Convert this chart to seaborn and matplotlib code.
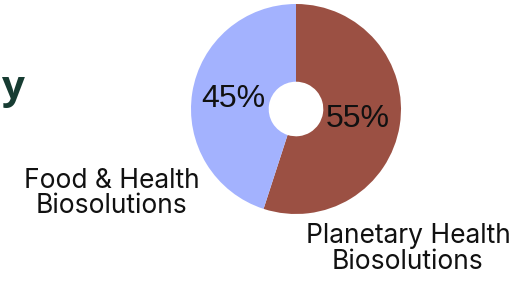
import matplotlib
matplotlib.use('Agg')
import matplotlib.pyplot as plt
import seaborn as sns

# data
segments = ['Planetary Health\nBiosolutions', 'Food & Health\nBiosolutions']
shares = [55, 45]
colors = ['#9b5043', '#a3b2fe']

W, H = 523, 283

sns.set_theme(style='white')
plt.rcParams['font.family'] = ['Inter', 'DejaVu Sans']

fig = plt.figure(figsize=(W / 100, H / 100), dpi=100)
fig.patch.set_facecolor('white')


def fx(px):
    return px / W


def fy(py):
    return 1 - py / H


# donut: centre (296,109) px, radius 105 px
ax = fig.add_axes([fx(296 - 105), fy(109 + 105), fx(210), 210 / H])
wedges, texts, autotexts = ax.pie(
    shares,
    colors=colors,
    startangle=90,
    counterclock=False,
    autopct='%.0f%%',
    pctdistance=0.6,
    wedgeprops=dict(width=0.74, edgecolor='none'),
)
for t in autotexts:
    t.set_fontfamily(['Liberation Sans', 'DejaVu Sans'])
    t.set_fontsize(23)
    t.set_color('#111111')
ax.set_xlim(-1, 1)
ax.set_ylim(-1, 1)
ax.set_aspect('equal')
ax.axis('off')

# end of the cut-off title on the left edge
fig.text(fx(2), fy(99), 'y', ha='left', va='baseline',
         fontsize=29, fontweight='bold', color='#173c32', family='Open Sans')

# category labels
fig.text(fx(112), fy(168), segments[1], ha='center', va='top',
         fontsize=19, color='#111111', linespacing=0.95)
fig.text(fx(408), fy(223), segments[0], ha='center', va='top',
         fontsize=19, color='#111111', linespacing=1.0)

fig.savefig('out.png', dpi=100)
